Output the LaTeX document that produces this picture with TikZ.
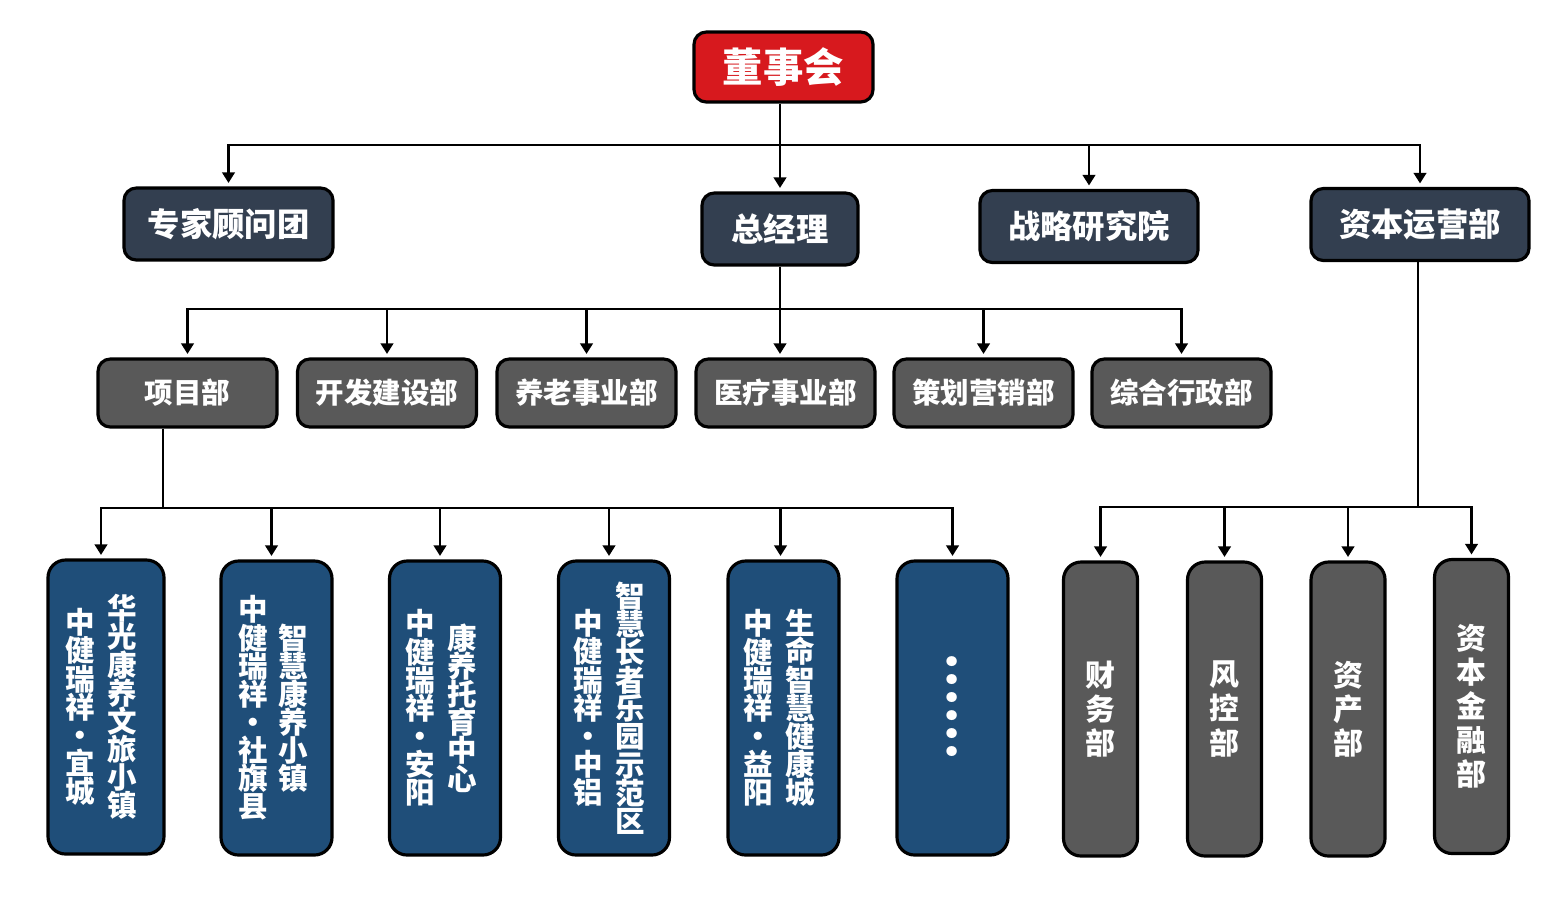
\documentclass[tikz,border=0pt]{standalone}
\usepackage{fontspec}
\usetikzlibrary{arrows.meta, positioning, calc}
\newfontfamily\cjk{Noto Sans CJK SC}
\definecolor{boardred}{RGB}{215, 25, 30}
\definecolor{navy}{RGB}{51, 63, 80}
\definecolor{slate}{RGB}{89, 89, 89}
\definecolor{ocean}{RGB}{31, 78, 121}
\newcommand{\tightlines}{\lineskiplimit=-10pt\relax}

\begin{document}
\begin{tikzpicture}[
	>={Triangle[length=3pt, width=3.6pt]},
	font=\cjk\bfseries,
	% Styles for the boxes and the connectors
	box/.style={draw=black, line width=0.9pt, rounded corners=3.5pt, text=white, inner sep=0pt, align=center},
	topbox/.style={box, fill=navy, minimum height=0.72cm, font=\cjk\bfseries\fontsize{9.2}{11}\selectfont},
	deptbox/.style={box, fill=slate, minimum width=1.79cm, minimum height=0.68cm, font=\cjk\bfseries\fontsize{8.1}{10}\selectfont},
	sitebox/.style={box, fill=ocean, rounded corners=5pt, minimum width=1.11cm, minimum height=2.94cm},
	unitbox/.style={box, fill=slate, rounded corners=5pt, minimum width=0.74cm, minimum height=2.94cm, font={\cjk\bfseries\fontsize{8.5}{9.7}\selectfont\tightlines}},
	vcol/.style={text=white, align=center, inner sep=0pt, font={\cjk\bfseries\fontsize{8.4}{8}\selectfont\tightlines}},
	link/.style={->, line width=0.6pt, shorten >=1pt},
	line/.style={line width=0.6pt}
	]
	
	\useasboundingbox (0,0) rectangle (15.6,-9.2);
	
	% ==========================================
	% 1. BOARD AND FIRST LEVEL
	% ==========================================
	\node[box, fill=boardred, minimum width=1.79cm, minimum height=0.70cm, font=\cjk\bfseries\fontsize{11.5}{13}\selectfont] (board) at (7.835, -0.67) {董事会};
	
	\node[topbox, minimum width=2.09cm] (expert) at (2.285, -2.24) {专家顾问团};
	\node[topbox, minimum width=1.56cm] (gm) at (7.8, -2.29) {总经理};
	\node[topbox, minimum width=2.18cm] (strategy) at (10.89, -2.265) {战略研究院};
	\node[topbox, minimum width=2.18cm] (capital) at (14.2, -2.245) {资本运营部};
	
	% Bus under the board
	\coordinate (topbus) at (7.8, -1.45);
	\draw[link] (gm.north |- board.south) -- (gm.north);
	\draw[link] (topbus) -| (expert.north);
	\draw[link] (topbus) -| (capital.north);
	\draw[link] (topbus -| strategy.north) -- (strategy.north);
	
	% ==========================================
	% 2. DEPARTMENTS UNDER THE GENERAL MANAGER
	% ==========================================
	\node[deptbox] (proj) at (1.875, -3.93) {项目部};
	\node[deptbox] (devel) at (3.87, -3.93) {开发建设部};
	\node[deptbox] (elder) at (5.865, -3.93) {养老事业部};
	\node[deptbox] (medic) at (7.855, -3.93) {医疗事业部};
	\node[deptbox] (market) at (9.835, -3.93) {策划营销部};
	\node[deptbox] (admin) at (11.815, -3.93) {综合行政部};
	
	\coordinate (gmbus) at (7.8, -3.09);
	\draw[link] (gm.south) -- (gm.south |- medic.north);
	\draw[link] (gmbus) -| (proj.north);
	\draw[link] (gmbus) -| (devel.north);
	\draw[link] (gmbus) -| (elder.north);
	\draw[link] (gmbus) -| (market.north);
	\draw[link] (gmbus) -| (admin.north);
	
	% ==========================================
	% 3. PROJECT SITES
	% ==========================================
	\node[sitebox, minimum width=1.16cm] (site1) at (1.06, -7.07) {};
	\node[sitebox] (site2) at (2.765, -7.08) {};
	\node[sitebox] (site3) at (4.45, -7.08) {};
	\node[sitebox] (site4) at (6.14, -7.08) {};
	\node[sitebox] (site5) at (7.835, -7.08) {};
	\node[sitebox] (site6) at (9.525, -7.08) {};
	
	% Two columns of upright text in each site box
	\node[vcol] (site1l) at ([xshift=-0.26cm]site1.center) {中\\健\\瑞\\祥\\·\\宜\\城};
	\node[vcol] (site1r) at ([xshift=0.16cm]site1.center) {华\\光\\康\\养\\文\\旅\\小\\镇};
	\node[vcol] (site2l) at ([xshift=-0.23cm]site2.center) {中\\健\\瑞\\祥\\·\\社\\旗\\县};
	\node[vcol] (site2r) at ([xshift=0.17cm]site2.center) {智\\慧\\康\\养\\小\\镇};
	\node[vcol] (site3l) at ([xshift=-0.25cm]site3.center) {中\\健\\瑞\\祥\\·\\安\\阳};
	\node[vcol] (site3r) at ([xshift=0.17cm]site3.center) {康\\养\\托\\育\\中\\心};
	\node[vcol] (site4l) at ([xshift=-0.26cm]site4.center) {中\\健\\瑞\\祥\\·\\中\\铝};
	\node[vcol] (site4r) at ([xshift=0.16cm]site4.center) {智\\慧\\长\\者\\乐\\园\\示\\范\\区};
	\node[vcol] (site5l) at ([xshift=-0.25cm]site5.center) {中\\健\\瑞\\祥\\·\\益\\阳};
	\node[vcol] (site5r) at ([xshift=0.17cm]site5.center) {生\\命\\智\\慧\\健\\康\\城};
	\node[vcol, rotate=-90, font=\cjk\bfseries\fontsize{13.5}{14}\selectfont] (site6d) at ([yshift=0.02cm]site6.center) {……};
	
	\coordinate (projbus) at (1.63, -5.08);
	\draw[line] (projbus |- proj.south) -- (projbus);
	\draw[link] (projbus) -| ([xshift=-0.05cm]site1.north);
	\draw[link] (projbus) -| ([xshift=-0.05cm]site2.north);
	\draw[link] (projbus) -| ([xshift=-0.05cm]site3.north);
	\draw[link] (projbus) -| ([xshift=-0.05cm]site4.north);
	\draw[link] (projbus) -| ([xshift=-0.03cm]site5.north);
	\draw[link] (projbus) -| (site6.north);
	
	% ==========================================
	% 4. UNITS UNDER CAPITAL OPERATIONS
	% ==========================================
	\node[unitbox] (fin) at (11.005, -7.09) {财\\务\\部};
	\node[unitbox] (risk) at (12.245, -7.09) {风\\控\\部};
	\node[unitbox] (asset) at (13.48, -7.09) {资\\产\\部};
	\node[unitbox] (finance) at (14.715, -7.065) {资\\本\\金\\融\\部};
	
	\coordinate (capbus) at (14.18, -5.07);
	\draw[line] (capbus |- capital.south) -- (capbus);
	\draw[link] (capbus) -| (fin.north);
	\draw[link] (capbus) -| (risk.north);
	\draw[link] (capbus) -| (asset.north);
	\draw[link] (capbus) -| (finance.north);
\end{tikzpicture}
\end{document}
